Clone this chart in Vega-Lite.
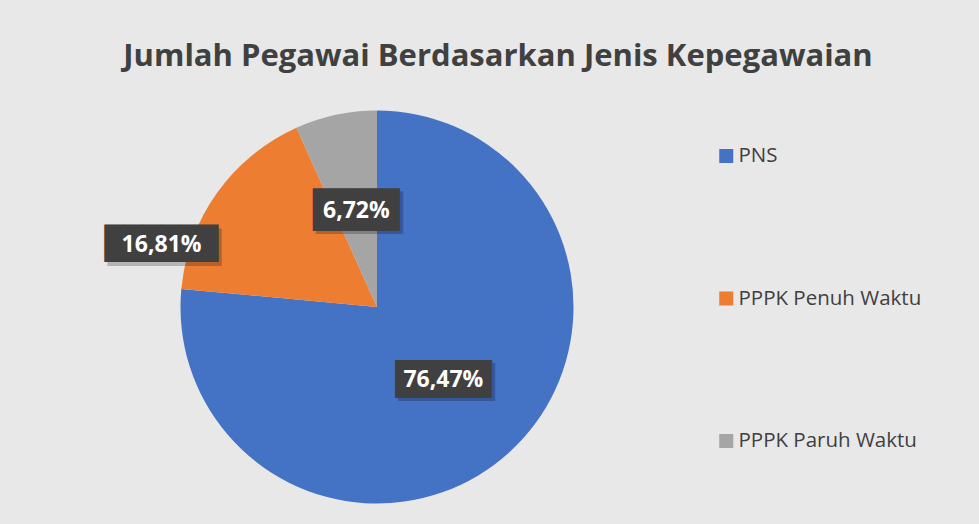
{
  "$schema": "https://vega.github.io/schema/vega-lite/v6.json",
  "width": 393,
  "height": 393,
  "autosize": {"type": "none"},
  "padding": {"left": 180.5, "top": 110.5, "right": 405.5, "bottom": 20.5},
  "background": "#e8e8e8",
  "title": {
    "text": "Jumlah Pegawai Berdasarkan Jenis Kepegawaian",
    "font": "Open Sans",
    "fontSize": 31,
    "fontWeight": "bold",
    "color": "#404040",
    "anchor": "middle",
    "frame": "group",
    "dx": 121,
    "offset": 13.5,
    "baseline": "alphabetic"
  },
  "data": {
    "values": [
      {"jenis": "PNS", "persen": 0.7647},
      {"jenis": "PPPK Penuh Waktu", "persen": 0.1681},
      {"jenis": "PPPK Paruh Waktu", "persen": 0.0672}
    ]
  },
  "encoding": {
    "theta": {"field": "persen", "type": "quantitative", "stack": true},
    "order": {"field": "persen", "type": "quantitative", "sort": "descending"}
  },
  "layer": [
    {
      "mark": {"type": "arc", "radius": 196.5},
      "encoding": {
        "color": {
          "field": "jenis",
          "type": "nominal",
          "scale": {
            "domain": ["PNS", "PPPK Penuh Waktu", "PPPK Paruh Waktu"],
            "range": ["#4472C4", "#ED7D31", "#A5A5A5"]
          },
          "legend": {
            "title": null,
            "orient": "none",
            "legendX": 535.5,
            "legendY": 35.25,
            "direction": "vertical",
            "symbolType": "square",
            "symbolSize": 196,
            "symbolStrokeWidth": 0,
            "labelFont": "Open Sans",
            "labelFontSize": 20.5,
            "labelColor": "#404040",
            "labelOffset": 2,
            "rowPadding": 121.5,
            "padding": 0,
            "labelLimit": 400
          }
        }
      }
    },
    {
      "mark": {
        "type": "text",
        "radius": 98.5,
        "font": "DejaVu Sans Mono",
        "align": "center",
        "baseline": "middle",
        "color": "#000000",
        "opacity": 0.22,
        "fontSize": {"expr": "datum.jenis === 'PNS' ? 32 : datum.jenis === 'PPPK Paruh Waktu' ? 36 : 31.5"},
        "dx": {"expr": "datum.jenis === 'PPPK Penuh Waktu' ? -132.3 : 3"},
        "dy": {"expr": "datum.jenis === 'PPPK Penuh Waktu' ? -0.8 : 3.5"}
      },
      "encoding": {
        "detail": {"field": "jenis", "type": "nominal"},
        "text": {
          "condition": [
            {"test": "datum.jenis === 'PNS'", "value": "█████"},
            {"test": "datum.jenis === 'PPPK Paruh Waktu'", "value": "████"}
          ],
          "value": "██████"
        }
      }
    },
    {
      "mark": {
        "type": "text",
        "radius": 98.5,
        "font": "DejaVu Sans Mono",
        "align": "center",
        "baseline": "middle",
        "color": "#404040",
        "fontSize": {"expr": "datum.jenis === 'PNS' ? 32 : datum.jenis === 'PPPK Paruh Waktu' ? 36 : 31.5"},
        "dx": {"expr": "datum.jenis === 'PPPK Penuh Waktu' ? -135.3 : 0"},
        "dy": {"expr": "datum.jenis === 'PPPK Penuh Waktu' ? -4.3 : 0"}
      },
      "encoding": {
        "detail": {"field": "jenis", "type": "nominal"},
        "text": {
          "condition": [
            {"test": "datum.jenis === 'PNS'", "value": "█████"},
            {"test": "datum.jenis === 'PPPK Paruh Waktu'", "value": "████"}
          ],
          "value": "██████"
        }
      }
    },
    {
      "mark": {
        "type": "text",
        "radius": 98.5,
        "font": "Open Sans",
        "fontWeight": "bold",
        "fontSize": 23,
        "align": "center",
        "baseline": "middle",
        "color": "#ffffff",
        "dx": {"expr": "datum.jenis === 'PPPK Penuh Waktu' ? -135.3 : 0"},
        "dy": {"expr": "datum.jenis === 'PPPK Penuh Waktu' ? -4.3 : 0"}
      },
      "encoding": {
        "detail": {"field": "jenis", "type": "nominal"},
        "text": {"field": "persen", "type": "quantitative", "format": ".2%"}
      }
    }
  ],
  "config": {
    "view": {"stroke": null},
    "locale": {
      "number": {
        "decimal": ",",
        "thousands": ".",
        "grouping": [3],
        "currency": ["Rp", ""]
      }
    }
  }
}
